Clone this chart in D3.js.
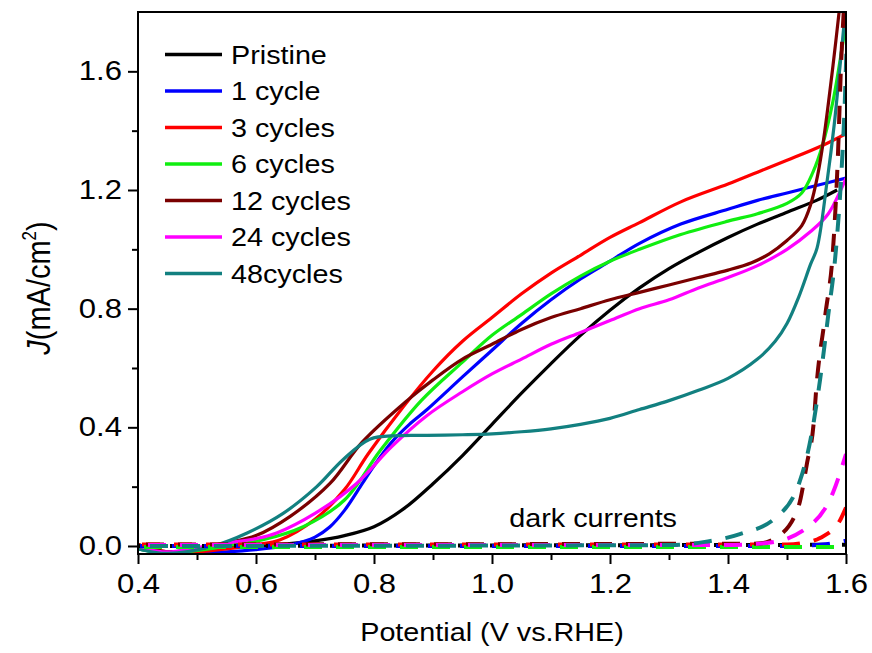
<!DOCTYPE html>
<html>
<head>
<meta charset="utf-8">
<script src="https://cdn.jsdelivr.net/npm/d3@7"></script>
<style>
  html, body { margin: 0; padding: 0; background: #fff; }
  svg { display: block; font-family: "Liberation Sans", Arial, Helvetica, sans-serif; }
</style>
</head>
<body>
<svg id="chart" width="872" height="653"></svg>
<script>
// ---- Photocurrent (illuminated) J–V curves: [potential V vs RHE, J mA/cm²] ----
const pristine = [[0.40,-0.005],[0.45,-0.02],[0.50,-0.012],[0.55,-0.004],[0.60,0.0],[0.65,0.007],[0.70,0.017],[0.75,0.035],[0.80,0.065],[0.85,0.125],[0.90,0.21],[0.95,0.305],[1.00,0.41],[1.05,0.515],[1.10,0.615],[1.15,0.71],[1.20,0.795],[1.25,0.87],[1.30,0.935],[1.35,0.99],[1.40,1.04],[1.45,1.085],[1.50,1.125],[1.55,1.165],[1.585,1.20]];
const cycle1 = [[0.40,-0.01],[0.45,-0.025],[0.50,-0.025],[0.55,-0.02],[0.60,-0.012],[0.65,0.0],[0.68,0.015],[0.70,0.03],[0.725,0.064],[0.75,0.12],[0.78,0.21],[0.80,0.27],[0.83,0.35],[0.86,0.41],[0.89,0.46],[0.95,0.57],[1.00,0.66],[1.05,0.75],[1.10,0.83],[1.15,0.90],[1.20,0.96],[1.25,1.02],[1.32,1.085],[1.40,1.135],[1.45,1.165],[1.50,1.19],[1.55,1.215],[1.60,1.24]];
const cycle3 = [[0.40,0.005],[0.45,-0.02],[0.50,-0.02],[0.55,-0.01],[0.60,0.005],[0.64,0.02],[0.70,0.09],[0.75,0.19],[0.79,0.31],[0.85,0.47],[0.90,0.59],[0.95,0.69],[1.00,0.77],[1.05,0.85],[1.10,0.92],[1.15,0.98],[1.20,1.04],[1.25,1.09],[1.32,1.16],[1.40,1.22],[1.45,1.26],[1.50,1.30],[1.56,1.35],[1.60,1.39]];
const cycle6 = [[0.40,-0.01],[0.45,-0.025],[0.50,-0.015],[0.55,0.0],[0.61,0.02],[0.68,0.065],[0.75,0.155],[0.81,0.32],[0.88,0.49],[0.95,0.62],[1.00,0.71],[1.05,0.78],[1.10,0.85],[1.15,0.91],[1.20,0.96],[1.25,1.0],[1.32,1.05],[1.40,1.095],[1.45,1.12],[1.50,1.155],[1.525,1.19],[1.544,1.26],[1.56,1.35],[1.578,1.50],[1.595,1.70],[1.605,1.83]];
const cycle12 = [[0.40,0.005],[0.45,-0.02],[0.50,-0.01],[0.55,0.01],[0.60,0.035],[0.658,0.10],[0.725,0.21],[0.78,0.35],[0.856,0.49],[0.90,0.56],[0.95,0.63],[1.00,0.68],[1.05,0.73],[1.10,0.77],[1.15,0.80],[1.20,0.83],[1.25,0.855],[1.30,0.88],[1.35,0.905],[1.40,0.93],[1.44,0.955],[1.47,0.985],[1.50,1.03],[1.525,1.08],[1.54,1.15],[1.552,1.25],[1.562,1.37],[1.578,1.62],[1.59,1.83]];
const cycle24 = [[0.40,-0.005],[0.45,-0.02],[0.50,-0.005],[0.55,0.01],[0.60,0.025],[0.635,0.044],[0.70,0.11],[0.77,0.21],[0.83,0.335],[0.89,0.44],[0.95,0.52],[1.00,0.58],[1.05,0.63],[1.10,0.68],[1.15,0.72],[1.20,0.76],[1.25,0.80],[1.30,0.83],[1.35,0.87],[1.40,0.905],[1.45,0.945],[1.50,1.0],[1.54,1.06],[1.57,1.12],[1.60,1.24]];
const cycle48 = [[0.40,-0.01],[0.45,-0.025],[0.527,0.0],[0.585,0.044],[0.646,0.11],[0.703,0.20],[0.747,0.29],[0.793,0.36],[0.84,0.372],[0.89,0.373],[0.95,0.375],[1.00,0.378],[1.05,0.385],[1.10,0.395],[1.15,0.41],[1.20,0.43],[1.25,0.46],[1.30,0.49],[1.35,0.525],[1.40,0.565],[1.45,0.63],[1.48,0.69],[1.50,0.75],[1.52,0.84],[1.54,0.95],[1.551,1.005],[1.568,1.23],[1.58,1.42],[1.59,1.62],[1.60,1.83]];

// ---- Dark-current J–V curves ----
const darkPristine = [[0.40,0.0],[1.60,0.004]];
const darkCycle1 = [[0.40,0.0],[1.50,0.0],[1.56,0.005],[1.60,0.018]];
const darkCycle3 = [[0.40,0.005],[1.50,0.005],[1.527,0.01],[1.556,0.027],[1.59,0.087],[1.60,0.13]];
const darkCycle6 = [[0.40,-0.003],[1.60,-0.003]];
const darkCycle12 = [[0.40,0.005],[1.45,0.008],[1.483,0.03],[1.519,0.13],[1.534,0.28],[1.545,0.41],[1.55,0.54],[1.565,0.78],[1.578,1.0],[1.586,1.3],[1.592,1.64],[1.597,1.83]];
const darkCycle24 = [[0.40,0.003],[1.40,0.003],[1.466,0.01],[1.533,0.06],[1.578,0.18],[1.60,0.31]];
const darkCycle48 = [[0.40,0.0],[1.30,0.003],[1.358,0.013],[1.42,0.04],[1.48,0.094],[1.522,0.22],[1.54,0.36],[1.556,0.56],[1.57,0.78],[1.583,1.0],[1.592,1.25],[1.598,1.5],[1.603,1.83]];

const seriesNames = ["Pristine", "1 cycle", "3 cycles", "6 cycles", "12 cycles", "24 cycles", "48cycles"];
const seriesColors = ["#000000", "#0000ff", "#ff0000", "#10ee10", "#7a0000", "#ff00ff", "#128080"];
const lightCurves = [pristine, cycle1, cycle3, cycle6, cycle12, cycle24, cycle48];
const darkCurves = [darkPristine, darkCycle1, darkCycle3, darkCycle6, darkCycle12, darkCycle24, darkCycle48];

const xTicks = [0.4, 0.6, 0.8, 1.0, 1.2, 1.4, 1.6];
const xMinorTicks = [0.5, 0.7, 0.9, 1.1, 1.3, 1.5];
const yTicks = [0.0, 0.4, 0.8, 1.2, 1.6];
const yMinorTicks = [0.2, 0.6, 1.0, 1.4];

// ---- Layout ----
const svg = d3.select("#chart");
const plot = { left: 138, right: 846, top: 12, bottom: 554 };
const STRETCH = 1.15; // wide glyph proportions for all labels

const x = d3.scaleLinear().domain([0.4, 1.6]).range([plot.left, plot.right]);
const y = d3.scaleLinear().domain([-0.027, 1.8]).range([plot.bottom, plot.top]);

svg.append("defs").append("clipPath").attr("id", "plotClip")
  .append("rect")
  .attr("x", plot.left).attr("y", plot.top)
  .attr("width", plot.right - plot.left).attr("height", plot.bottom - plot.top);

const smoothLine = d3.line()
  .x(d => x(d[0]))
  .y(d => y(d[1]))
  .curve(d3.curveCatmullRom.alpha(0.5));

const darkLine = d3.line()
  .x(d => x(d[0]))
  .y(d => y(d[1]))
  .curve(d3.curveMonotoneX);

const curves = svg.append("g").attr("clip-path", "url(#plotClip)");

lightCurves.forEach((data, i) => {
  curves.append("path")
    .attr("d", smoothLine(data))
    .attr("fill", "none")
    .attr("stroke", seriesColors[i])
    .attr("stroke-width", 3.2)
    .attr("stroke-linejoin", "round");
});

darkCurves.forEach((data, i) => {
  curves.append("path")
    .attr("d", darkLine(data))
    .attr("fill", "none")
    .attr("stroke", seriesColors[i])
    .attr("stroke-width", 4)
    .attr("stroke-dasharray", "18,14")
    .attr("stroke-dashoffset", -i * 2);
});

// ---- Axes ----
function styleTicks(g) {
  g.selectAll(".domain").remove();
  g.selectAll(".tick line").attr("stroke", "#000").attr("stroke-width", 2);
}
function styleAxis(g) {
  styleTicks(g);
  g.selectAll("text")
    .attr("fill", "#000")
    .style("font-size", "27px")
    .attr("transform", `scale(${STRETCH},1)`);
}

svg.append("g")
  .attr("transform", `translate(0,${plot.bottom})`)
  .call(d3.axisBottom(x).tickValues(xTicks).tickSize(10).tickPadding(10).tickFormat(d3.format(".1f")))
  .call(styleAxis);

svg.append("g")
  .attr("transform", `translate(0,${plot.bottom})`)
  .call(d3.axisBottom(x).tickValues(xMinorTicks).tickSize(6).tickFormat(""))
  .call(styleTicks);

svg.append("g")
  .attr("transform", `translate(${plot.left},0)`)
  .call(d3.axisLeft(y).tickValues(yTicks).tickSize(10).tickPadding(4).tickFormat(d3.format(".1f")))
  .call(styleAxis);

svg.append("g")
  .attr("transform", `translate(${plot.left},0)`)
  .call(d3.axisLeft(y).tickValues(yMinorTicks).tickSize(6).tickFormat(""))
  .call(styleTicks);

// Frame around the plot area
svg.append("rect")
  .attr("x", plot.left).attr("y", plot.top)
  .attr("width", plot.right - plot.left).attr("height", plot.bottom - plot.top)
  .attr("fill", "none").attr("stroke", "#000").attr("stroke-width", 2);

// ---- Axis titles ----
svg.append("text")
  .attr("transform", `translate(${(plot.left + plot.right) / 2},641) scale(${STRETCH},1)`)
  .attr("text-anchor", "middle")
  .style("font-size", "25px")
  .text("Potential (V vs.RHE)");

const yTitle = svg.append("text")
  .attr("transform", `translate(50,288) rotate(-90) scale(1,${STRETCH})`)
  .attr("text-anchor", "middle")
  .style("font-size", "29px");
yTitle.append("tspan").style("font-style", "italic").text("J");
yTitle.append("tspan").text("(mA/cm");
yTitle.append("tspan").attr("dy", -12).style("font-size", "17px").text("2");
yTitle.append("tspan").attr("dy", 12).text(")");

// ---- Annotation ----
svg.append("text")
  .attr("transform", `translate(677,527) scale(${STRETCH},1)`)
  .attr("text-anchor", "end")
  .style("font-size", "25px")
  .text("dark currents");

// ---- Legend ----
const legend = svg.append("g");
seriesNames.forEach((name, i) => {
  const ly = 54.5 + i * 36.5;
  legend.append("line")
    .attr("x1", 165).attr("x2", 222)
    .attr("y1", ly).attr("y2", ly)
    .attr("stroke", seriesColors[i])
    .attr("stroke-width", 3.5);
  legend.append("text")
    .attr("transform", `translate(231,${ly}) scale(${STRETCH},1)`)
    .attr("dy", "0.36em")
    .style("font-size", "25px")
    .text(name);
});
</script>
</body>
</html>
